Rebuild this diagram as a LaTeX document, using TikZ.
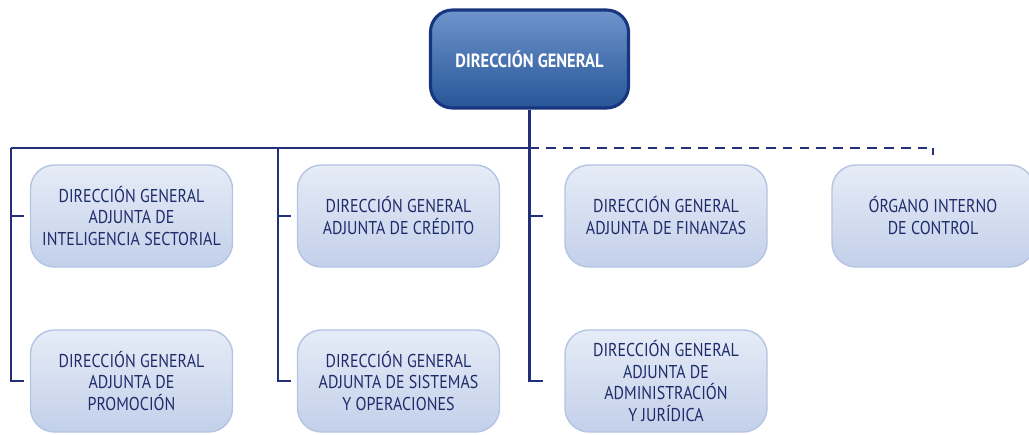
\documentclass[tikz,border=0pt]{standalone}
\usepackage{fontspec}
\setmainfont[FakeStretch=0.86]{PT Sans}
\usetikzlibrary{positioning}
\definecolor{navy}{HTML}{22307A}
\definecolor{chieffill}{HTML}{2B5FA8}
\definecolor{chieftop}{HTML}{6E94CC}
\definecolor{chiefedge}{HTML}{17367F}
\definecolor{boxfill}{HTML}{C3D0EA}
\definecolor{boxtop}{HTML}{E6ECF7}
\definecolor{boxedge}{HTML}{B4C4E3}
\definecolor{boxtext}{HTML}{1F2C6B}

\begin{document}
\begin{tikzpicture}[x=0.025cm,y=-0.025cm,
    chief/.style={rounded corners=0.55cm, minimum width=4.95cm, minimum height=2.45cm,
      draw=chiefedge, line width=2.2pt, top color=chieftop, middle color=chieffill,
      bottom color=chieffill!90!black, text=white,
      font=\fontsize{13.6}{16}\selectfont\bfseries},
    unit/.style={rounded corners=0.6cm, minimum width=5.05cm, minimum height=2.55cm,
      draw=boxedge, line width=1pt, top color=boxtop, middle color=boxfill,
      bottom color=boxfill, text=boxtext, align=center,
      font=\fontsize{13.2}{15.6}\selectfont},
    link/.style={draw=navy, line width=2.1pt},
    dashlink/.style={link, dash pattern=on 7pt off 5pt}]
    \useasboundingbox (0,0) rectangle (1029,434);
    % boxes
    \node[chief] (dg) at (529.5,59) {DIRECCIÓN GENERAL};
    \node[unit] (intel) at (131.5,216) {DIRECCIÓN GENERAL\\ADJUNTA DE\\INTELIGENCIA SECTORIAL};
    \node[unit] (cred) at (398.5,216) {DIRECCIÓN GENERAL\\ADJUNTA DE CRÉDITO};
    \node[unit] (fin) at (666,216) {DIRECCIÓN GENERAL\\ADJUNTA DE FINANZAS};
    \node[unit] (oic) at (933,216) {ÓRGANO INTERNO\\DE CONTROL};
    \node[unit] (prom) at (131.5,381) {DIRECCIÓN GENERAL\\ADJUNTA DE\\PROMOCIÓN};
    \node[unit] (sist) at (398.5,381) {DIRECCIÓN GENERAL\\ADJUNTA DE SISTEMAS\\Y OPERACIONES};
    \node[unit] (adm) at (666,381) {DIRECCIÓN GENERAL\\ADJUNTA DE\\ADMINISTRACIÓN\\Y JURÍDICA};
    % bus
    \coordinate (bus) at (dg.south |- 0,148);
    \coordinate (left) at (11,148);
    \coordinate (mid) at (278,148);
    \coordinate (tap) at (oic.north |- bus);
    \draw[link] (dg.south) -- (bus);
    \draw[link] (left) -- (bus);
    \draw[dashlink] (bus) -- (tap);
    \draw[link] (tap) -- ++(0,7);
    \foreach \c/\t/\b in {left/intel/prom, mid/cred/sist, bus/fin/adm}{
      \draw[link] (\c) -- (\c |- \b.west) -- ++(13,0);
      \draw[link] (\c |- \t.west) -- ++(13,0);
    }
  \end{tikzpicture}
\end{document}
